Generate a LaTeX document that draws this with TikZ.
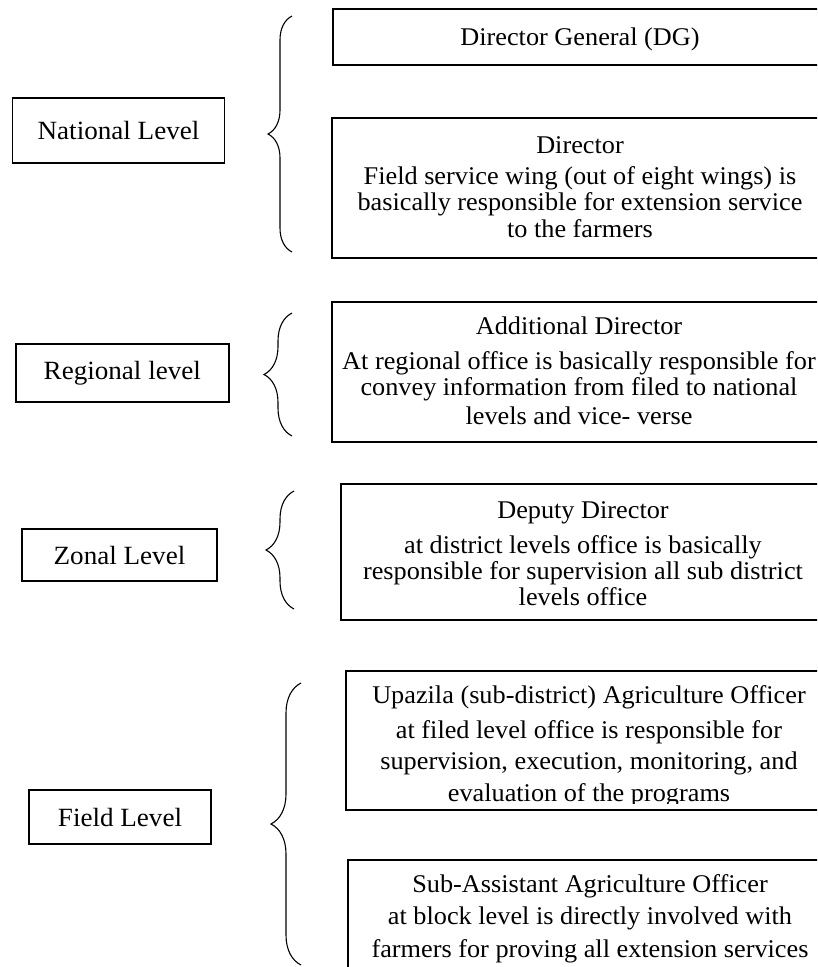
\documentclass[tikz,border=0pt]{standalone}
\usepackage{fontspec}
\setmainfont{Liberation Serif}[FakeStretch=1.03]
\usetikzlibrary{decorations.pathreplacing}
\begin{document}
\begin{tikzpicture}[x=1pt,y=-1pt,
  lbox/.style={draw,line width=1.8pt,inner sep=0pt,font=\fontsize{26.3}{27}\selectfont},
  rbox/.style={draw,line width=1.8pt,inner sep=0pt,anchor=north west},
  txt/.style={inner sep=0pt,anchor=base,font=\fontsize{25.5}{27}\selectfont},
  curly/.style={decorate,line width=1.1pt,decoration={brace,amplitude=#1}}]
\useasboundingbox (0,0) rectangle (817,967);
\clip (0,0) rectangle (817,967);
% level boxes
\node[lbox,minimum width=212pt,minimum height=65pt] (nat) at (118.5,130.5) {National Level};
\node[lbox,minimum width=213pt,minimum height=58pt] (reg) at (122.3,373) {Regional level};
\node[lbox,minimum width=195pt,minimum height=52pt] (zon) at (119.5,555) {Zonal Level};
\node[lbox,minimum width=182pt,minimum height=54pt] (fld) at (120,817) {Field Level};
% braces
\coordinate (b1s) at (292,252); \coordinate (b1e) at (292,16);
\coordinate (b2s) at (292,436); \coordinate (b2e) at (292,313);
\coordinate (b3s) at (294,609); \coordinate (b3e) at (294,491);
\coordinate (b4s) at (301,965); \coordinate (b4e) at (301,683);
\draw[curly=24pt] (b1s) -- (b1e);
\draw[curly=28pt] (b2s) -- (b2e);
\draw[curly=28pt] (b3s) -- (b3e);
\draw[curly=30pt] (b4s) -- (b4e);
% right boxes
\node[rbox,minimum width=498pt,minimum height=56pt] (dg) at (332,8) {};
\node[rbox,minimum width=499pt,minimum height=140pt] (dir) at (331,117) {};
\node[rbox,minimum width=499pt,minimum height=140pt] (add) at (331,301) {};
\node[rbox,minimum width=486pt,minimum height=136pt] (dep) at (340,483) {};
\node[rbox,minimum width=488pt,minimum height=139pt] (upa) at (345,670) {};
\node[rbox,minimum width=488pt,minimum height=160pt] (sub) at (347,859) {};
% texts
\node[txt] (dgt) at (580,45) {Director General (DG)};
\node[txt] (dirt) at (580,153) {\begin{tabular}[t]{@{}c@{}}Director\\[4pt]
Field service wing (out of eight wings) is\\[-1pt]
basically responsible for extension service\\
to the farmers\end{tabular}};
\node[txt] (addt) at (579,334) {\begin{tabular}[t]{@{}c@{}}Additional Director\\[8pt]
At regional office is basically responsible for\\[-1pt]
convey information from filed to national\\[2pt]
levels and vice- verse\end{tabular}};
\node[txt] (dept) at (583,518) {\begin{tabular}[t]{@{}c@{}}Deputy Director\\[8pt]
at district levels office is basically\\[-1pt]
responsible for supervision all sub district\\[-1pt]
levels office\end{tabular}};
\begin{scope}
\clip (340,660) rectangle (840,803);
\node[txt] (upat) at (589,703) {\begin{tabular}[t]{@{}c@{}}Upazila (sub-district) Agriculture Officer\\[8pt]
at filed level office is responsible for\\[4pt]
supervision, execution, monitoring, and\\[5pt]
evaluation of the programs\end{tabular}};
\end{scope}
\begin{scope}
\clip (340,850) rectangle (840,964);
\node[txt] (subt) at (590,892) {\begin{tabular}[t]{@{}c@{}}Sub-Assistant Agriculture Officer\\[5pt]
at block level is directly involved with\\[6pt]
farmers for proving all extension services\end{tabular}};
\end{scope}
\end{tikzpicture}
\end{document}
